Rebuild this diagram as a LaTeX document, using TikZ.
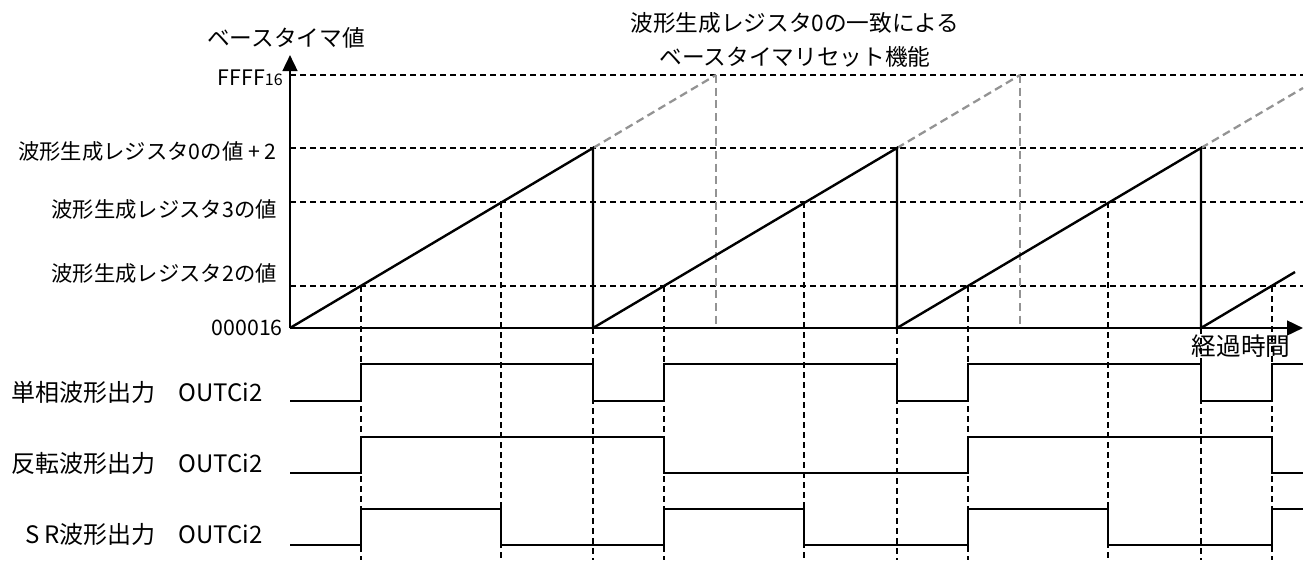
\documentclass[tikz,border=0pt]{standalone}
\usepackage{fontspec}
\setmainfont{Noto Sans CJK JP}
\usetikzlibrary{arrows.meta}

\tikzset{
  lvl/.style={inner sep=0pt,font=\fontsize{16}{19}\selectfont},
  outlbl/.style={inner sep=0pt,anchor=east,font=\fontsize{18}{21}\selectfont},
  guide/.style={line width=0.9pt,dash pattern=on 4.5pt off 3pt},
  ghost/.style={line width=1.7pt,gray!85,dash pattern=on 6pt off 3.5pt},
  wave/.style={line width=1.8pt,line join=miter},
  bigarrow/.style={-{Triangle[length=12pt,width=11pt]}}
}

\begin{document}
\begin{tikzpicture}[x=0.75pt,y=-0.75pt]
\useasboundingbox (0,0) rectangle (1311,562);

% grid help (1 unit = 1 px of the sketch)
%\draw[help lines,step=50] (0,0) grid (1311,562);

\coordinate (O) at (290,328);
\coordinate (ytop) at (290,55);
\coordinate (xend) at (1303,328);

% levels
\draw[guide] (290,75) -- (1303,75);
\draw[guide] (290,148) -- (1303,148);
\draw[guide] (290,202) -- (1303,202);
\draw[guide] (290,286) -- (1303,286);

% counter would run on to FFFF
\draw[ghost] (593,148) -- (716,75);
\draw[ghost] (897,148) -- (1020,75);
\draw[ghost] (1201,148) -- (1303,88);
\draw[ghost] (716,75) -- (716,328);
\draw[ghost] (1020,75) -- (1020,328);

% compare matches
\foreach \x/\y in {361/286,664/286,968/286,1272/286,501/202,804/202,1108/202,593/328,897/328,1201/328}
  \draw[guide] (\x,\y) -- (\x,560);

% axis
\draw[line width=1.9pt,bigarrow] (O) -- (ytop);
\draw[line width=1.9pt,bigarrow] (O) -- (xend);

% base timer
\draw[wave] (O) -- (593,148) -- (593,328) -- (897,148) -- (897,328)
  -- (1201,148) -- (1201,328) -- (1295,272);

% outputs
\draw[wave] (290,401) -- (361,401) -- (361,364) -- (593,364) -- (593,401)
  -- (664,401) -- (664,364) -- (897,364) -- (897,401) -- (968,401)
  -- (968,364) -- (1201,364) -- (1201,401) -- (1272,401) -- (1272,364)
  -- (1303,364);
\draw[wave] (290,473) -- (361,473) -- (361,437) -- (664,437) -- (664,473)
  -- (968,473) -- (968,437) -- (1272,437) -- (1272,473) -- (1303,473);
\draw[wave] (290,545) -- (361,545) -- (361,509) -- (501,509) -- (501,545)
  -- (664,545) -- (664,509) -- (804,509) -- (804,545) -- (968,545)
  -- (968,509) -- (1108,509) -- (1108,545) -- (1272,545) -- (1272,509)
  -- (1303,509);

% labels
\node[lvl,font=\fontsize{17}{20}\selectfont] (ylbl) at (286,38) {ベースタイマ値};
\node[lvl,font=\fontsize{18.5}{22}\selectfont] (xlbl) at (1241,346) {経過時間};
\node[lvl,align=center,font=\fontsize{17}{25.5}\selectfont] (title) at (795,40)
  {波形生成レジスタ0の一致による\\ベースタイマリセット機能};
\node[lvl,anchor=east] (vmax) at (283,78) {FFFF{\fontsize{12}{14}\selectfont 16}};
\node[lvl,anchor=east] (vcmp0) at (277,151) {波形生成レジスタ0の値 + 2};
\node[lvl,anchor=east] (vcmp3) at (277,209) {波形生成レジスタ3の値};
\node[lvl,anchor=east] (vcmp2) at (277,273) {波形生成レジスタ2の値};
\node[lvl,anchor=east] (vmin) at (283,328) {000016};
\node[outlbl] (single) at (263,392) {単相波形出力\hspace{17pt}OUTCi2};
\node[outlbl] (invert) at (263,463) {反転波形出力\hspace{17pt}OUTCi2};
\node[outlbl] (srout) at (263,534) {S R波形出力\hspace{17pt}OUTCi2};

\end{tikzpicture}
\end{document}
